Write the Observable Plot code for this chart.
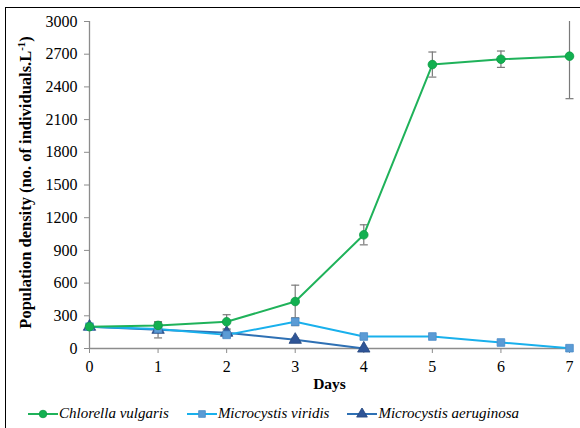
<!DOCTYPE html>
<html><head><meta charset="utf-8">
<script src="https://cdn.jsdelivr.net/npm/d3@7"></script>
<script src="https://cdn.jsdelivr.net/npm/@observablehq/plot@0.6"></script>
<style>
body{margin:0;background:#fff;}
#frame{position:absolute;left:5px;top:7px;width:620px;height:460px;border:1px solid #000;}
#chart{position:absolute;left:0;top:0;}
#legend{position:absolute;left:28px;top:405px;display:flex;align-items:center;font-family:"Liberation Serif","Times New Roman",serif;font-style:italic;font-size:15px;color:#000;white-space:nowrap;}
#legend .item{display:flex;align-items:center;margin-right:18px;}
#legend svg{margin-right:1px;}
</style></head>
<body><div id="frame"></div><div id="chart"></div><div id="legend"></div>
<script>
const days = [0, 1, 2, 3, 4, 5, 6, 7];
const seriesNames = ["Chlorella vulgaris", "Microcystis viridis", "Microcystis aeruginosa"];
const chlorella = [200, 212, 245, 431, 1043, 2605, 2654, 2682];
const chlorellaErr = [0, 25, 65, 150, 92, 115, 75, 390];
const viridis = [200, 180, 125, 245, 110, 110, 55, 3];
const viridisErr = [0, 0, 20, 35, 0, 0, 0, 0];
const aeruginosaDays = [0, 1, 2, 3, 4];
const aeruginosa = [200, 172, 145, 80, 0];
const aeruginosaErr = [0, 75, 25, 15, 0];
const yTicks = [0, 300, 600, 900, 1200, 1500, 1800, 2100, 2400, 2700, 3000];
const yTitle = "Population density (no. of individuals.L-1)";

const FONT = "'Liberation Serif', 'Times New Roman', serif";
const lineColors = ["#1fb25a", "#19b0ec", "#2e70b4"];
const dotFill = ["#12b050", "#5b9bd5", "#2f5597"];
const dotStroke = ["#0d9a44", "#4a8bc8", "#26477f"];
const symbols = ["circle", "square", "triangle"];

const rows = [];
days.forEach((d, i) => rows.push({s: 0, day: d, v: chlorella[i], e: chlorellaErr[i]}));
days.forEach((d, i) => rows.push({s: 1, day: d, v: viridis[i], e: viridisErr[i]}));
aeruginosaDays.forEach((d, i) => rows.push({s: 2, day: d, v: aeruginosa[i], e: aeruginosaErr[i]}));
const errRows = rows.filter(r => r.e > 0);

const cap = {draw(ctx, size) { const w = 4; ctx.moveTo(-w, 0); ctx.lineTo(w, 0); }};

const marks = [
  Plot.ruleY([0], {stroke: "#8c8c8c", strokeWidth: 1.3}),
  Plot.ruleX([0], {stroke: "#8c8c8c", strokeWidth: 1.3}),
  Plot.axisY({ticks: yTicks, tickSize: 5, tickPadding: 7, stroke: "#8c8c8c", fill: "#000", fontSize: 16, fontFamily: FONT, tickFormat: d => String(d), label: null}),
  Plot.axisX({ticks: days, tickSize: 5, tickPadding: 7, stroke: "#8c8c8c", fill: "#000", fontSize: 16, fontFamily: FONT, tickFormat: d => String(d), label: null}),
  Plot.ruleX(errRows, {x: "day", y1: r => r.v - r.e, y2: r => Math.min(3000, r.v + r.e), stroke: "#7a7a7a", strokeWidth: 1.2}),
  Plot.dot(errRows, {x: "day", y: r => r.v - r.e, symbol: cap, r: 4, stroke: "#7a7a7a", fill: "none", strokeWidth: 1.2}),
  Plot.dot(errRows.filter(r => r.v + r.e <= 3000), {x: "day", y: r => r.v + r.e, symbol: cap, r: 4, stroke: "#7a7a7a", fill: "none", strokeWidth: 1.2}),
];
[2, 1, 0].forEach(s => {
  const data = rows.filter(r => r.s === s);
  marks.push(Plot.line(data, {x: "day", y: "v", stroke: lineColors[s], strokeWidth: 2}));
});
[2, 1, 0].forEach(s => {
  const data = rows.filter(r => r.s === s);
  marks.push(Plot.dot(data, {x: "day", y: "v", symbol: symbols[s], r: s === 2 ? 4.6 : 4.3, fill: dotFill[s], stroke: dotStroke[s], strokeWidth: 0.8}));
});
marks.push(Plot.text(["Days"], {frameAnchor: "bottom", dy: 40, fontWeight: "bold", fontSize: 15.5, fontFamily: FONT, fill: "#000"}));
marks.push(Plot.text([yTitle], {frameAnchor: "left", dx: -64, rotate: -90, textAnchor: "middle", fontWeight: "bold", fontSize: 15, fontFamily: FONT, fill: "#000"}));

const chart = Plot.plot({
  width: 580, height: 400,
  marginLeft: 89, marginRight: 11, marginTop: 21, marginBottom: 52,
  style: {fontFamily: FONT, fontSize: "15px", color: "#000", background: "transparent"},
  x: {domain: [0, 7]},
  y: {domain: [0, 3000]},
  marks
});
document.getElementById("chart").appendChild(chart);

// superscript in y title, then fit it to the span seen in the reference (top ~25, bottom ~340)
d3.select(chart).selectAll("text").each(function() {
  const t = d3.select(this);
  if (t.text() === yTitle) {
    t.text(null);
    t.append("tspan").text("Population density (no. of individuals.L");
    t.append("tspan").attr("baseline-shift", "super").attr("font-size", "0.65em").text("-1");
    t.append("tspan").text(")");
    const el = this;
    let r = el.getBoundingClientRect();
    let fs = 15 * 312 / r.height;
    fs = Math.max(13, Math.min(16.5, fs));
    t.attr("font-size", fs);
    r = el.getBoundingClientRect();
    const shift = 182.5 - (r.top + r.bottom) / 2;
    const cx = 25 - (r.left + r.right) / 2;
    const tr = t.attr("transform") || "";
    t.attr("transform", `translate(${cx},${shift}) ` + tr);
  }
});

// legend
const leg = d3.select("#legend");
seriesNames.forEach((name, s) => {
  const item = leg.append("div").attr("class", "item");
  const sv = item.append("svg").attr("width", 30).attr("height", 12);
  sv.append("line").attr("x1", 0).attr("x2", 30).attr("y1", 6).attr("y2", 6).attr("stroke", lineColors[s]).attr("stroke-width", 2);
  sv.append("path").attr("transform", "translate(15,6)")
    .attr("d", d3.symbol(s === 0 ? d3.symbolCircle : s === 1 ? d3.symbolSquare : d3.symbolTriangle, s === 2 ? 50 : 45)())
    .attr("fill", dotFill[s]).attr("stroke", dotStroke[s]).attr("stroke-width", 0.8);
  item.append("span").text(name);
});
</script>
</body></html>
